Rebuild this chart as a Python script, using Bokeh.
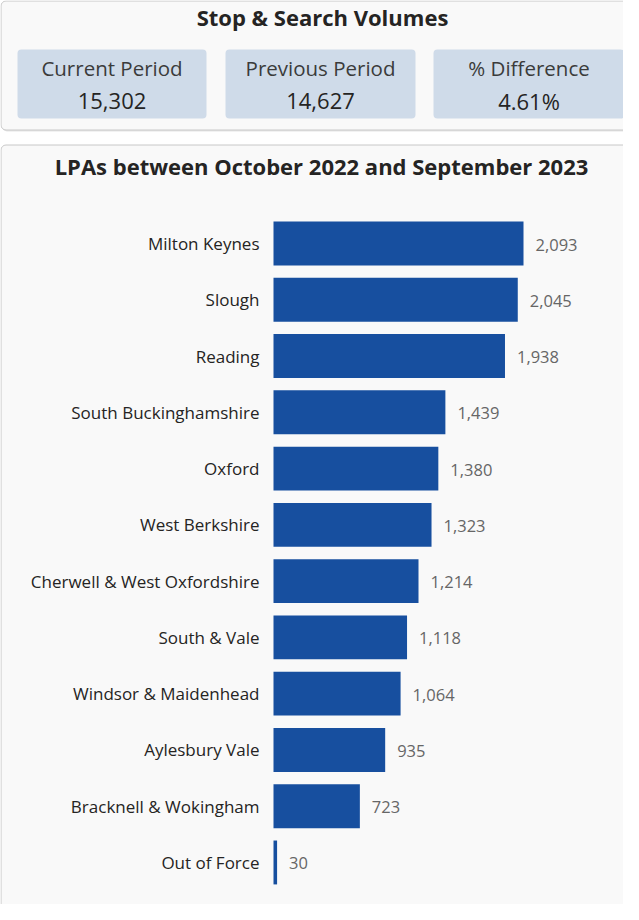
from bokeh.plotting import figure
from bokeh.models import Range1d
from bokeh.core.properties import value
from bokeh.embed import file_html
from bokeh.resources import INLINE

# ---- data ----
header_title = "Stop & Search Volumes"
kpi_titles = ["Current Period", "Previous Period", "% Difference"]
kpi_values = ["15,302", "14,627", "4.61%"]
chart_title = "LPAs between October 2022 and September 2023"
lpas = ["Milton Keynes", "Slough", "Reading", "South Buckinghamshire", "Oxford",
        "West Berkshire", "Cherwell & West Oxfordshire", "South & Vale",
        "Windsor & Maidenhead", "Aylesbury Vale", "Bracknell & Wokingham", "Out of Force"]
volumes = [2093, 2045, 1938, 1439, 1380, 1323, 1214, 1118, 1064, 935, 723, 30]

FONT = "Open Sans"
W, H = 623, 904

p = figure(width=W, height=H, output_backend="svg", toolbar_location=None,
           x_range=Range1d(0, W), y_range=Range1d(H, 0),
           x_axis_location=None, y_axis_location=None,
           min_border=0, outline_line_color=None,
           background_fill_color="white", border_fill_color="white")
p.grid.visible = False

# value / row scales for the bar chart
px_per_unit = 250 / max(volumes)
bar_left = 273
row0, row_step = 243, 56.27
p.extra_x_ranges = {"val": Range1d(-bar_left / px_per_unit, (W - bar_left) / px_per_unit)}
p.extra_y_ranges = {"row": Range1d((H - row0) / row_step, -row0 / row_step)}

# ---- top KPI panel ----
p.quad(left=[1.5], right=[662], top=[2], bottom=[131], fill_color="#e6e6e6", line_color=None, border_radius=5)
p.quad(left=[0.5], right=[660], top=[0.5], bottom=[129.5], fill_color="#f9f9f9",
       line_color="#c8c8c8", line_width=1, border_radius=5)
p.text(x=[322], y=[16], text=[header_title], text_font=value(FONT), text_font_style="bold",
       text_font_size="22px", text_color="#252423", text_align="center", text_baseline="middle")

card_l = [17, 225, 433]
card_r = [206, 415, 624]
p.quad(left=card_l, right=card_r, top=[49] * 3, bottom=[118] * 3,
       fill_color="#cfdbe9", line_color=None, border_radius=4)
cx = [(a + b) / 2 for a, b in zip(card_l, card_r)]
p.text(x=cx, y=[67] * 3, text=kpi_titles, text_font=value(FONT), text_font_size="20.5px",
       text_color="#3b3b3b", text_align="center", text_baseline="middle")
p.text(x=cx, y=[100] * 3, text=kpi_values, text_font=value(FONT), text_font_size="22px",
       text_color="#252423", text_align="center", text_baseline="middle")

# ---- bar chart panel ----
p.quad(left=[1.5], right=[662], top=[146], bottom=[1000], fill_color="#e6e6e6", line_color=None, border_radius=5)
p.quad(left=[0.5], right=[660], top=[144.5], bottom=[1000], fill_color="#f9f9f9",
       line_color="#c8c8c8", line_width=1, border_radius=5)
p.text(x=[321], y=[165], text=[chart_title], text_font=value(FONT), text_font_style="bold",
       text_font_size="22px", text_color="#252423", text_align="center", text_baseline="middle")

rows = list(range(len(lpas)))
p.hbar(y=rows, left=0, right=volumes, height=0.78, fill_color="#174f9f", line_color=None,
       x_range_name="val", y_range_name="row")
p.text(x=[0] * len(lpas), y=rows, text=lpas, x_offset=-14, text_font=value(FONT),
       text_font_size="17px", text_color="#252423", text_align="right", text_baseline="middle",
       x_range_name="val", y_range_name="row")
p.text(x=volumes, y=rows, text=[f"{v:,}" for v in volumes], x_offset=12, y_offset=1,
       text_font=value(FONT), text_font_size="16.5px", text_color="#666666",
       text_align="left", text_baseline="middle", x_range_name="val", y_range_name="row")

open("out.html", "w").write(file_html(p, INLINE))
